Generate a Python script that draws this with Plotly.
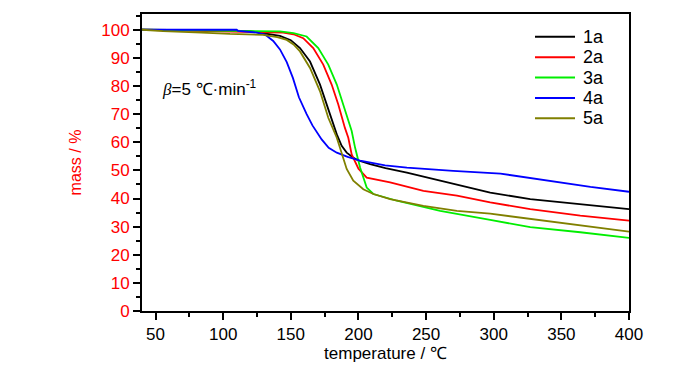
import plotly.graph_objects as go

# Data (temperature in °C, mass in %)
t_1a = [40, 60, 100, 120, 134.7, 142, 150, 156.8, 164.2, 171.6, 179, 184, 187.6, 191.3, 196, 200, 208.6, 220, 235.8, 260.4, 280, 297.4, 327, 364, 400]
m_1a = [100, 100, 99.8, 99.5, 98.5, 97.8, 96.3, 93.5, 88.7, 80.5, 69.9, 62.8, 58.7, 56.3, 54.6, 53.5, 52.2, 50.8, 49.2, 46.3, 44.2, 42.1, 39.8, 38.0, 36.2]

t_2a = [40, 85, 102, 130, 144.4, 152, 159.2, 166.6, 174, 180.2, 185.1, 190, 192.5, 195, 198.7, 200, 206.1, 223.4, 248, 272.8, 297.4, 327, 364, 400]
m_2a = [100, 99.6, 99.4, 99.2, 99.0, 98.4, 97.0, 93.5, 87.6, 80.5, 73.4, 65.1, 61.6, 55.7, 52.2, 50.6, 47.4, 45.7, 42.7, 41.0, 38.6, 36.2, 33.9, 32.1]

t_3a = [40, 100, 130, 142, 152, 161.7, 170.3, 177.7, 184, 188.8, 195, 197.5, 201.2, 206.1, 211, 228.4, 260.4, 297.4, 327, 364, 400]
m_3a = [100, 99.6, 99.6, 99.4, 98.8, 97.6, 93.5, 87.6, 80.5, 73.4, 64.0, 58.1, 51.0, 43.9, 41.6, 39.2, 35.6, 32.4, 29.8, 28.0, 26.0]

t_4a = [40, 110, 111, 125, 131, 137, 142, 147, 151.6, 156, 161.7, 166, 172.8, 178, 184, 192, 201.2, 219.7, 235.8, 270, 305, 339.4, 371.5, 400]
m_4a = [100, 100, 99.6, 99.0, 98.3, 96.0, 93.0, 88.5, 82.8, 76.0, 70.0, 66.0, 61.0, 58.0, 56.3, 54.8, 53.5, 51.8, 51.0, 49.8, 48.85, 46.3, 44.1, 42.4]

t_5a = [40, 55.5, 84, 105, 129.6, 140, 147, 152, 156.8, 164.2, 171.6, 177.7, 184, 188.8, 191.3, 196.2, 203.6, 211, 223.4, 248, 272.8, 297.4, 327, 364, 400]
m_5a = [100, 99.5, 99.0, 98.5, 98.2, 97.4, 96.4, 94.8, 92.3, 86.4, 78.1, 68.7, 61.6, 54.5, 50.5, 46.3, 43.3, 41.6, 39.8, 37.4, 35.6, 34.6, 32.7, 30.3, 28.2]

names = ["1a", "2a", "3a", "4a", "5a"]
temps = [t_1a, t_2a, t_3a, t_4a, t_5a]
masses = [m_1a, m_2a, m_3a, m_4a, m_5a]
colors = ["#000000", "#ff0000", "#00ee00", "#0000ff", "#808000"]

x_ticks = [50, 100, 150, 200, 250, 300, 350, 400]
y_ticks = [0, 10, 20, 30, 40, 50, 60, 70, 80, 90, 100]

FONT = "Liberation Sans, Arial, sans-serif"

# page body has an 8px margin; figure sized to fit the 700x373 window
W, H = 692, 365
ML, MR, MT, MB = 134, 71, 4, 62
PW, PH = W - ML - MR, H - MT - MB


def px_to_paper(px, py):
    # px, py are window pixel coordinates
    return (px - 8 - ML) / PW, 1 - (py - 8 - MT) / PH


fig = go.Figure()
for name, t, m, c in zip(names, temps, masses, colors):
    fig.add_trace(go.Scatter(x=t, y=m, mode="lines", name=name,
                             line=dict(color=c, width=1.8), showlegend=False))

fig.update_layout(
    width=W, height=H,
    margin=dict(l=ML, r=MR, t=MT, b=MB),
    paper_bgcolor="white", plot_bgcolor="white",
    font=dict(family=FONT, size=17, color="black"),
    xaxis=dict(range=[40, 400], tickvals=x_ticks, ticks="outside", ticklen=7, tickwidth=2,
               tickcolor="black", showline=True, linecolor="black", linewidth=2, mirror=True,
               showgrid=False, zeroline=False,
               minor=dict(dtick=25, tick0=0, ticks="outside", ticklen=4, tickwidth=2, tickcolor="black"),
               tickfont=dict(size=17, color="black"),
               title=dict(text="temperature / ℃", font=dict(size=17, color="black"), standoff=3)),
    yaxis=dict(range=[0, 105.6], tickvals=y_ticks, ticks="outside", ticklen=7, tickwidth=2,
               tickcolor="black", showline=True, linecolor="black", linewidth=2, mirror=True,
               showgrid=False, zeroline=False,
               minor=dict(dtick=5, tick0=0, ticks="outside", ticklen=4, tickwidth=2, tickcolor="black"),
               tickfont=dict(size=17, color="red"),
               title=dict(text="mass / %", font=dict(size=16, color="red"), standoff=16)),
)

# manual legend (reference spacing is tighter than plotly's legend allows)
legend_y = [35, 55.5, 76, 96.5, 117]
for name, c, ly in zip(names, colors, legend_y):
    x0, y0 = px_to_paper(535, ly)
    x1, _ = px_to_paper(575, ly)
    fig.add_shape(type="line", xref="paper", yref="paper", x0=x0, x1=x1, y0=y0, y1=y0,
                  line=dict(color=c, width=2))
    tx, ty = px_to_paper(581, ly)
    fig.add_annotation(x=tx, y=ty, xref="paper", yref="paper", xanchor="left", yanchor="middle",
                       text=name, showarrow=False, font=dict(size=18, color="black"))

ax, ay = px_to_paper(160, 86)
fig.add_annotation(
    x=ax, y=ay, xref="paper", yref="paper", xanchor="left", yanchor="middle",
    text='<span style="font-family:Liberation Serif;font-style:italic">β</span>=5 ℃·min<sup>-1</sup>',
    showarrow=False, font=dict(size=17, color="black"))

fig.write_html("out.html")
